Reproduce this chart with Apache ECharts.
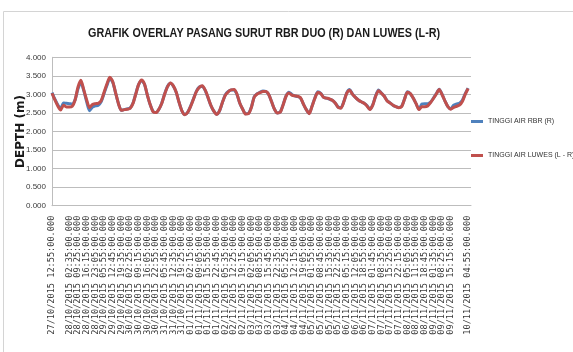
<!DOCTYPE html>
<html>
<head>
<meta charset="utf-8">
<script src="https://cdn.jsdelivr.net/npm/echarts@6/dist/echarts.min.js"></script>
<style>
html,body{margin:0;padding:0;background:#fff;}
#chart{width:573px;height:352px;}
</style>
</head>
<body>
<div id="chart"></div>
<script>
var tickLabels = [
"27/10/2015 12:55:00.000","27/10/2015 19:45:00.000","28/10/2015 02:35:00.000","28/10/2015 09:25:00.000",
"28/10/2015 16:15:00.000","28/10/2015 23:05:00.000","29/10/2015 05:55:00.000","29/10/2015 12:45:00.000",
"29/10/2015 19:35:00.000","30/10/2015 02:25:00.000","30/10/2015 09:15:00.000","30/10/2015 16:05:00.000",
"30/10/2015 22:55:00.000","31/10/2015 05:45:00.000","31/10/2015 12:35:00.000","31/10/2015 19:25:00.000",
"01/11/2015 02:15:00.000","01/11/2015 09:05:00.000","01/11/2015 15:55:00.000","01/11/2015 22:45:00.000",
"02/11/2015 05:35:00.000","02/11/2015 12:25:00.000","02/11/2015 19:15:00.000","03/11/2015 02:05:00.000",
"03/11/2015 08:55:00.000","03/11/2015 15:45:00.000","03/11/2015 22:35:00.000","04/11/2015 05:25:00.000",
"04/11/2015 12:15:00.000","04/11/2015 19:05:00.000","05/11/2015 01:55:00.000","05/11/2015 08:45:00.000",
"05/11/2015 15:35:00.000","05/11/2015 22:25:00.000","06/11/2015 05:15:00.000","06/11/2015 12:05:00.000",
"06/11/2015 18:55:00.000","07/11/2015 01:45:00.000","07/11/2015 08:35:00.000","07/11/2015 15:25:00.000",
"07/11/2015 22:15:00.000","08/11/2015 05:05:00.000","08/11/2015 11:55:00.000","08/11/2015 18:45:00.000",
"09/11/2015 01:35:00.000","09/11/2015 08:25:00.000","09/11/2015 15:15:00.000","09/11/2015 22:05:00.000",
"10/11/2015 04:55:00.000"
];

var seriesNames = ["TINGGI AIR RBR (R)", "TINGGI AIR LUWES (L - R)"];
var chartTitle = "GRAFIK OVERLAY PASANG SURUT RBR DUO (R) DAN LUWES (L-R)";

var rbrValues = [
3.05,2.87,2.72,2.62,2.77,2.76,2.75,2.74,2.86,3.15,
3.33,3.10,2.80,2.56,2.66,2.69,2.71,2.80,3.02,3.24,
3.42,3.33,3.04,2.75,2.57,2.59,2.61,2.63,2.76,3.02,
3.27,3.37,3.27,2.98,2.72,2.54,2.51,2.60,2.77,3.02,
3.22,3.30,3.22,3.05,2.78,2.55,2.46,2.52,2.69,2.89,
3.09,3.20,3.22,3.11,2.91,2.70,2.55,2.47,2.56,2.79,
2.99,3.08,3.12,3.12,3.00,2.76,2.60,2.48,2.49,2.66,
2.94,3.02,3.06,3.09,3.08,3.00,2.80,2.60,2.50,2.53,
2.73,2.96,3.06,3.00,2.96,2.94,2.90,2.74,2.59,2.49,
2.69,2.91,3.07,3.03,2.92,2.90,2.87,2.84,2.77,2.66,
2.64,2.81,3.04,3.13,3.01,2.92,2.85,2.80,2.76,2.70,
2.60,2.72,2.96,3.12,3.04,2.95,2.83,2.77,2.71,2.67,
2.65,2.68,2.88,3.07,3.02,2.90,2.75,2.60,2.74,2.75,
2.75,2.79,2.90,3.02,3.14,3.00,2.82,2.67,2.61,2.71,
2.74,2.76,2.84,3.02,3.17,null
];

var luwesValues = [
3.03,2.85,2.69,2.58,2.71,2.66,2.66,2.68,2.85,3.20,
3.38,3.12,2.85,2.64,2.73,2.75,2.76,2.83,3.05,3.28,
3.46,3.35,3.05,2.75,2.57,2.59,2.60,2.62,2.75,3.01,
3.27,3.39,3.28,2.98,2.72,2.53,2.51,2.60,2.76,3.01,
3.21,3.31,3.23,3.06,2.78,2.55,2.45,2.52,2.68,2.88,
3.08,3.19,3.23,3.12,2.92,2.70,2.55,2.46,2.56,2.79,
2.98,3.07,3.12,3.13,3.01,2.76,2.60,2.47,2.48,2.65,
2.93,3.01,3.05,3.08,3.08,3.00,2.80,2.60,2.50,2.52,
2.72,2.95,3.04,2.98,2.96,2.95,2.91,2.74,2.59,2.48,
2.68,2.90,3.05,3.02,2.92,2.90,2.88,2.84,2.77,2.65,
2.63,2.80,3.03,3.11,3.00,2.92,2.85,2.80,2.76,2.69,
2.59,2.71,2.95,3.10,3.03,2.95,2.82,2.77,2.71,2.67,
2.64,2.67,2.87,3.06,3.02,2.90,2.75,2.59,2.67,2.67,
2.69,2.78,2.89,3.01,3.13,2.99,2.82,2.67,2.60,2.65,
2.68,2.71,2.81,3.00,3.16,null
];

// categories: each tick label is followed by two intermediate samples; one trailing empty slot
var categories = [];
for (var i = 0; i < tickLabels.length; i++) {
  categories.push(tickLabels[i]);
  if (i < tickLabels.length - 1) {
    categories.push(tickLabels[i] + " +1");
    categories.push(tickLabels[i] + " +2");
  }
}
categories.push(" ");
var lastLabelIndex = (tickLabels.length - 1) * 3;

var sans = "'Liberation Sans',Arial,sans-serif";

var chart = echarts.init(document.getElementById('chart'), null, {renderer: 'canvas'});
chart.setOption({
  animation: false,
  backgroundColor: '#ffffff',
  graphic: [{
    type: 'rect',
    shape: {x: 3.5, y: 11.5, width: 620, height: 420},
    style: {fill: 'none', stroke: '#d4d4d4', lineWidth: 1},
    silent: true
  }, {
    type: 'text',
    x: 88, y: 33,
    scaleX: 0.8,
    silent: true,
    style: {
      text: chartTitle,
      x: 0, y: 0,
      fill: '#1a1a1a',
      font: "bold 13.5px 'Liberation Sans',Arial,sans-serif",
      verticalAlign: 'middle',
      align: 'left'
    }
  }],
  legend: [{
    data: [seriesNames[0]],
    left: 471, top: 118, padding: 0,
    icon: 'rect', itemWidth: 12, itemHeight: 3,
    textStyle: {fontFamily: sans, fontSize: 7, color: '#333'}
  }, {
    data: [seriesNames[1]],
    left: 471, top: 152, padding: 0,
    icon: 'rect', itemWidth: 12, itemHeight: 3,
    textStyle: {fontFamily: sans, fontSize: 7, color: '#333'}
  }],
  grid: {
    left: 52, right: 102, top: 57.3, bottom: 352 - 205.7,
    containLabel: false,
    outerBoundsMode: 'none'
  },
  xAxis: {
    type: 'category',
    data: categories,
    boundaryGap: false,
    axisLine: {lineStyle: {color: '#bdbdbd', width: 1}},
    axisTick: {show: false},
    splitLine: {show: false},
    axisLabel: {
      interval: function (idx) { return idx % 3 === 0 && idx <= lastLabelIndex; },
      showMinLabel: true,
      showMaxLabel: true,
      rotate: 90,
      margin: 10,
      fontFamily: "'DejaVu Sans Mono',monospace",
      fontSize: 8.6,
      lineHeight: 6,
      color: '#3a3a3a'
    }
  },
  yAxis: {
    type: 'value',
    min: 0, max: 4, interval: 0.5,
    name: 'DEPTH (m)',
    nameLocation: 'middle',
    nameRotate: 90,
    nameGap: 25,
    nameMoveOverlap: false,
    nameTextStyle: {fontFamily: "'DejaVu Sans',sans-serif", fontWeight: 'bold', fontSize: 12, color: '#1a1a1a'},
    axisLine: {show: true, lineStyle: {color: '#bdbdbd', width: 1}},
    axisTick: {show: false},
    splitLine: {lineStyle: {color: '#bdbdbd', width: 1}},
    axisLabel: {
      margin: 6,
      fontFamily: sans,
      fontSize: 8,
      color: '#3a3a3a',
      formatter: function (v) { return v.toFixed(3); }
    }
  },
  series: [{
    name: seriesNames[0],
    type: 'line',
    data: rbrValues,
    showSymbol: false,
    smooth: 0.25,
    connectNulls: false,
    lineStyle: {color: '#4F81BD', width: 3},
    itemStyle: {color: '#4F81BD'}
  }, {
    name: seriesNames[1],
    type: 'line',
    data: luwesValues,
    showSymbol: false,
    smooth: 0.25,
    connectNulls: false,
    lineStyle: {color: '#C0504D', width: 3},
    itemStyle: {color: '#C0504D'}
  }]
});
</script>
</body>
</html>
